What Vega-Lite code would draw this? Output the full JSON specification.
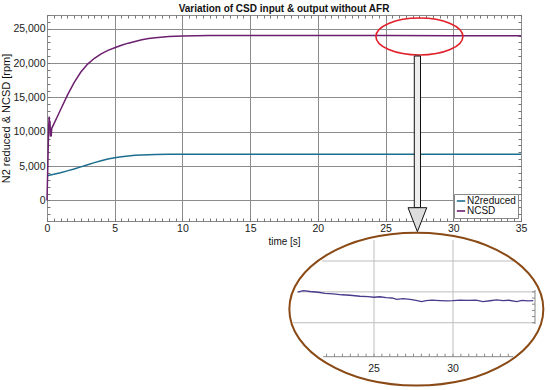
{
  "$schema": "https://vega.github.io/schema/vega-lite/v6.json",
  "width": 474,
  "height": 206,
  "autosize": "none",
  "padding": {"left": 47, "top": 15, "right": 29, "bottom": 169},
  "title": {"text": "Variation of CSD input & output without AFR", "fontSize": 10, "fontWeight": "bold", "anchor": "middle", "offset": -4, "color": "#111"},
  "config": {
    "font": "Liberation Sans",
    "view": {"stroke": "#888", "strokeWidth": 1},
    "axis": {"labelColor": "#222", "titleColor": "#111", "tickColor": "#777", "gridColor": "#8c8c8c", "gridWidth": 1, "domain": false}
  },
  "datasets": {
    "main": [
      {"series": "N2reduced", "t": 0, "v": 3600}, {"series": "N2reduced", "t": 0.5, "v": 3800}, {"series": "N2reduced", "t": 1, "v": 4030}, {"series": "N2reduced", "t": 1.5, "v": 4300}, {"series": "N2reduced", "t": 2, "v": 4570}, {"series": "N2reduced", "t": 2.5, "v": 4880}, {"series": "N2reduced", "t": 3, "v": 5200}, {"series": "N2reduced", "t": 3.5, "v": 5500}, {"series": "N2reduced", "t": 4, "v": 5780}, {"series": "N2reduced", "t": 4.5, "v": 6020}, {"series": "N2reduced", "t": 5, "v": 6220}, {"series": "N2reduced", "t": 5.5, "v": 6370}, {"series": "N2reduced", "t": 6, "v": 6480}, {"series": "N2reduced", "t": 6.5, "v": 6560}, {"series": "N2reduced", "t": 7, "v": 6620}, {"series": "N2reduced", "t": 8, "v": 6680}, {"series": "N2reduced", "t": 9, "v": 6705}, {"series": "N2reduced", "t": 10, "v": 6715}, {"series": "N2reduced", "t": 12, "v": 6720}, {"series": "N2reduced", "t": 20, "v": 6720}, {"series": "N2reduced", "t": 35, "v": 6720},
      {"series": "NCSD", "t": 0, "v": 0}, {"series": "NCSD", "t": 0.06, "v": 5000}, {"series": "NCSD", "t": 0.12, "v": 10500}, {"series": "NCSD", "t": 0.16, "v": 12200}, {"series": "NCSD", "t": 0.19, "v": 10200}, {"series": "NCSD", "t": 0.22, "v": 11600}, {"series": "NCSD", "t": 0.25, "v": 9300}, {"series": "NCSD", "t": 0.29, "v": 9800}, {"series": "NCSD", "t": 0.31, "v": 9300}, {"series": "NCSD", "t": 0.35, "v": 10500}, {"series": "NCSD", "t": 0.5, "v": 11100}, {"series": "NCSD", "t": 0.75, "v": 12150}, {"series": "NCSD", "t": 1, "v": 13200}, {"series": "NCSD", "t": 1.5, "v": 15300}, {"series": "NCSD", "t": 2, "v": 17150}, {"series": "NCSD", "t": 2.5, "v": 18700}, {"series": "NCSD", "t": 3, "v": 19850}, {"series": "NCSD", "t": 3.5, "v": 20700}, {"series": "NCSD", "t": 4, "v": 21350}, {"series": "NCSD", "t": 4.5, "v": 21850}, {"series": "NCSD", "t": 5, "v": 22240}, {"series": "NCSD", "t": 5.5, "v": 22600}, {"series": "NCSD", "t": 6, "v": 22900}, {"series": "NCSD", "t": 6.5, "v": 23150}, {"series": "NCSD", "t": 7, "v": 23380}, {"series": "NCSD", "t": 7.5, "v": 23570}, {"series": "NCSD", "t": 8, "v": 23700}, {"series": "NCSD", "t": 9, "v": 23860}, {"series": "NCSD", "t": 10, "v": 23950}, {"series": "NCSD", "t": 11, "v": 23990}, {"series": "NCSD", "t": 12, "v": 24000}, {"series": "NCSD", "t": 14, "v": 24010}, {"series": "NCSD", "t": 17, "v": 24010}, {"series": "NCSD", "t": 20, "v": 24010}, {"series": "NCSD", "t": 25, "v": 24000}, {"series": "NCSD", "t": 30, "v": 23990}, {"series": "NCSD", "t": 35, "v": 23990}
    ],
    "inset": [
      {"t": 20.17, "v": 23999.4}, {"t": 20.53, "v": 24001.9}, {"t": 20.95, "v": 24000.6}, {"t": 21.46, "v": 23999.4}, {"t": 21.9, "v": 23997.7}, {"t": 22.41, "v": 23996.6}, {"t": 22.97, "v": 23995.3}, {"t": 23.48, "v": 23994.5}, {"t": 24.11, "v": 23992.9}, {"t": 24.62, "v": 23992.2}, {"t": 25.0, "v": 23991.3}, {"t": 25.38, "v": 23992.1}, {"t": 25.76, "v": 23990.6}, {"t": 26.14, "v": 23990.1}, {"t": 26.44, "v": 23988.0}, {"t": 26.84, "v": 23989.0}, {"t": 27.28, "v": 23987.7}, {"t": 27.66, "v": 23986.4}, {"t": 28.02, "v": 23984.1}, {"t": 28.29, "v": 23985.9}, {"t": 28.67, "v": 23986.6}, {"t": 29.18, "v": 23985.9}, {"t": 29.62, "v": 23985.4}, {"t": 30.0, "v": 23985.7}, {"t": 30.44, "v": 23986.6}, {"t": 30.95, "v": 23986.1}, {"t": 31.46, "v": 23986.7}, {"t": 31.9, "v": 23984.1}, {"t": 32.34, "v": 23985.6}, {"t": 32.77, "v": 23986.9}, {"t": 33.16, "v": 23985.9}, {"t": 33.54, "v": 23986.4}, {"t": 34.03, "v": 23984.1}, {"t": 34.37, "v": 23986.1}, {"t": 34.75, "v": 23985.4}, {"t": 35.08, "v": 23985.9}
    ],
    "hgrid": [{"v": 24050, "t1": 21.7, "t2": 33.95}, {"v": 24000, "t1": 20.15, "t2": 35.19}, {"v": 23950, "t1": 19.87, "t2": 35.19}],
    "vgrid": [{"t": 25, "v1": 24084, "v2": 23895}, {"t": 30, "v1": 24084, "v2": 23895}],
    "bticks": [{"t": 22}, {"t": 22.5}, {"t": 23}, {"t": 23.5}, {"t": 24}, {"t": 24.5}, {"t": 25}, {"t": 25.5}, {"t": 26}, {"t": 26.5}, {"t": 27}, {"t": 27.5}, {"t": 28}, {"t": 28.5}, {"t": 29}, {"t": 29.5}, {"t": 30}, {"t": 30.5}, {"t": 31}, {"t": 31.5}, {"t": 32}, {"t": 32.5}, {"t": 33}, {"t": 33.5}],
    "rticks": [{"v": 24000}, {"v": 23990}, {"v": 23980}, {"v": 23970}, {"v": 23960}, {"v": 23950}],
    "ilabels": [{"t": 25, "label": "25"}, {"t": 30, "label": "30"}],
    "one": [{}]
  },
  "layer": [
    {
      "layer": [
        {
          "data": {"name": "main"},
          "mark": {"type": "line", "strokeWidth": 1.5},
          "encoding": {
            "x": {"field": "t", "type": "quantitative", "scale": {"domain": [0, 35], "nice": false, "zero": false},
              "axis": {"orient": "bottom", "values": [0,0.5,1,1.5,2,2.5,3,3.5,4,4.5,5,5.5,6,6.5,7,7.5,8,8.5,9,9.5,10,10.5,11,11.5,12,12.5,13,13.5,14,14.5,15,15.5,16,16.5,17,17.5,18,18.5,19,19.5,20,20.5,21,21.5,22,22.5,23,23.5,24,24.5,25,25.5,26,26.5,27,27.5,28,28.5,29,29.5,30,30.5,31,31.5,32,32.5,33,33.5,34,34.5,35],
                "labelExpr": "datum.value % 5 == 0 ? format(datum.value, 'd') : ''", "labelOverlap": false, "labelFlush": false, "labelFontSize": 10.5, "labelPadding": 5,
                "grid": true, "gridOpacity": {"condition": {"test": "datum.value % 5 == 0", "value": 1}, "value": 0},
                "tickSize": -3, "title": "time [s]", "titleFontSize": 10, "titleFontWeight": "normal", "titlePadding": 3}},
            "y": {"field": "v", "type": "quantitative", "scale": {"domain": [-3000, 27000], "nice": false, "zero": false},
              "axis": {"orient": "left", "values": [-3000,-2000,-1000,0,1000,2000,3000,4000,5000,6000,7000,8000,9000,10000,11000,12000,13000,14000,15000,16000,17000,18000,19000,20000,21000,22000,23000,24000,25000,26000,27000],
                "labelExpr": "datum.value % 5000 == 0 ? format(datum.value, ',') : ''", "labelOverlap": false, "labelFlush": false, "labelFontSize": 10.5, "labelPadding": 5,
                "grid": true, "gridOpacity": {"condition": {"test": "datum.value % 5000 == 0", "value": 1}, "value": 0},
                "tickSize": -3, "title": "N2 reduced & NCSD [rpm]", "titleFontSize": 11, "titleFontWeight": "normal", "titlePadding": 1}},
            "color": {"field": "series", "type": "nominal", "scale": {"domain": ["N2reduced", "NCSD"], "range": ["#1b6e8d", "#6b1f6e"]},
              "legend": {"orient": "bottom-right", "offset": 3, "title": null, "symbolType": "stroke", "symbolSize": 70, "symbolStrokeWidth": 1.6, "labelFontSize": 10, "labelOffset": 1, "padding": 2, "rowPadding": 0, "strokeColor": "#888", "fillColor": "white", "labelColor": "#111"}}
          }
        },
        {
          "data": {"name": "main"},
          "mark": {"type": "point", "opacity": 0},
          "encoding": {
            "x": {"field": "t", "type": "quantitative", "scale": {"domain": [0, 35], "nice": false, "zero": false},
              "axis": {"orient": "top", "values": [0,0.5,1,1.5,2,2.5,3,3.5,4,4.5,5,5.5,6,6.5,7,7.5,8,8.5,9,9.5,10,10.5,11,11.5,12,12.5,13,13.5,14,14.5,15,15.5,16,16.5,17,17.5,18,18.5,19,19.5,20,20.5,21,21.5,22,22.5,23,23.5,24,24.5,25,25.5,26,26.5,27,27.5,28,28.5,29,29.5,30,30.5,31,31.5,32,32.5,33,33.5,34,34.5,35],
                "labels": false, "grid": false, "tickSize": -3, "title": null}},
            "y": {"field": "v", "type": "quantitative", "scale": {"domain": [-3000, 27000], "nice": false, "zero": false},
              "axis": {"orient": "right", "values": [-3000,-2000,-1000,0,1000,2000,3000,4000,5000,6000,7000,8000,9000,10000,11000,12000,13000,14000,15000,16000,17000,18000,19000,20000,21000,22000,23000,24000,25000,26000,27000],
                "labels": false, "grid": false, "tickSize": -3, "title": null}}
          }
        },
        {
          "data": {"name": "one"},
          "mark": {"type": "point", "shape": "M-1,0C-1,-0.2348,-0.5523,-0.425,0,-0.425C0.5523,-0.425,1,-0.2348,1,0C1,0.2348,0.5523,0.425,0,0.425C-0.5523,0.425,-1,0.2348,-1,0Z", "size": 7569, "filled": false, "stroke": "#e0202a", "strokeWidth": 1.6, "opacity": 1},
          "encoding": {
            "x": {"datum": 27.5, "type": "quantitative", "scale": {"domain": [0, 35], "nice": false, "zero": false}, "axis": null},
            "y": {"datum": 23869, "type": "quantitative", "scale": {"domain": [-3000, 27000], "nice": false, "zero": false}, "axis": null}
          }
        },
        {
          "data": {"name": "one"},
          "mark": {"type": "rect", "fill": "#eeeeee", "stroke": "#111", "strokeWidth": 1},
          "encoding": {
            "x": {"datum": 27.12, "type": "quantitative", "scale": {"domain": [0, 35], "nice": false, "zero": false}, "axis": null},
            "x2": {"datum": 27.58},
            "y": {"datum": 21029, "type": "quantitative", "scale": {"domain": [-3000, 27000], "nice": false, "zero": false}, "axis": null},
            "y2": {"datum": -1063}
          }
        },
        {
          "data": {"name": "one"},
          "mark": {"type": "point", "shape": "M-0.78,-1L0.78,-1L0,1Z", "size": 576, "filled": true, "fill": "#dddddd", "stroke": "#111", "strokeWidth": 1, "opacity": 1},
          "encoding": {
            "x": {"datum": 27.35, "type": "quantitative", "scale": {"domain": [0, 35], "nice": false, "zero": false}, "axis": null},
            "y": {"datum": -2810, "type": "quantitative", "scale": {"domain": [-3000, 27000], "nice": false, "zero": false}, "axis": null}
          }
        }
      ],
      "resolve": {"axis": {"x": "independent", "y": "independent"}}
    },
    {
      "layer": [
        {
          "data": {"name": "hgrid"},
          "mark": {"type": "rule", "color": "#bdbdbd", "strokeWidth": 1},
          "encoding": {
            "x": {"field": "t1", "type": "quantitative", "scale": {"domain": [25, 30], "range": [327, 406], "nice": false, "zero": false}, "axis": null},
            "x2": {"field": "t2"},
            "y": {"field": "v", "type": "quantitative", "scale": {"domain": [23895, 24050], "range": [341.7, 246], "nice": false, "zero": false}, "axis": null}
          }
        },
        {
          "data": {"name": "vgrid"},
          "mark": {"type": "rule", "color": "#bdbdbd", "strokeWidth": 1},
          "encoding": {
            "x": {"field": "t", "type": "quantitative", "scale": {"domain": [25, 30], "range": [327, 406], "nice": false, "zero": false}, "axis": null},
            "y": {"field": "v1", "type": "quantitative", "scale": {"domain": [23895, 24050], "range": [341.7, 246], "nice": false, "zero": false}, "axis": null},
            "y2": {"field": "v2"}
          }
        },
        {
          "data": {"name": "one"},
          "mark": {"type": "rule", "color": "#888", "strokeWidth": 1},
          "encoding": {
            "x": {"datum": 21.77, "type": "quantitative", "scale": {"domain": [25, 30], "range": [327, 406], "nice": false, "zero": false}, "axis": null},
            "x2": {"datum": 33.8},
            "y": {"datum": 23895, "type": "quantitative", "scale": {"domain": [23895, 24050], "range": [341.7, 246], "nice": false, "zero": false}, "axis": null}
          }
        },
        {
          "data": {"name": "bticks"},
          "mark": {"type": "rule", "color": "#888", "strokeWidth": 1},
          "encoding": {
            "x": {"field": "t", "type": "quantitative", "scale": {"domain": [25, 30], "range": [327, 406], "nice": false, "zero": false}, "axis": null},
            "y": {"datum": 23895, "type": "quantitative", "scale": {"domain": [23895, 24050], "range": [341.7, 246], "nice": false, "zero": false}, "axis": null},
            "y2": {"datum": 23899.9}
          }
        },
        {
          "data": {"name": "one"},
          "mark": {"type": "rule", "color": "#888", "strokeWidth": 1},
          "encoding": {
            "x": {"datum": 35.19, "type": "quantitative", "scale": {"domain": [25, 30], "range": [327, 406], "nice": false, "zero": false}, "axis": null},
            "y": {"datum": 24003, "type": "quantitative", "scale": {"domain": [23895, 24050], "range": [341.7, 246], "nice": false, "zero": false}, "axis": null},
            "y2": {"datum": 23948}
          }
        },
        {
          "data": {"name": "rticks"},
          "mark": {"type": "rule", "color": "#888", "strokeWidth": 1},
          "encoding": {
            "x": {"datum": 35.0, "type": "quantitative", "scale": {"domain": [25, 30], "range": [327, 406], "nice": false, "zero": false}, "axis": null},
            "x2": {"datum": 35.19},
            "y": {"field": "v", "type": "quantitative", "scale": {"domain": [23895, 24050], "range": [341.7, 246], "nice": false, "zero": false}, "axis": null}
          }
        },
        {
          "data": {"name": "inset"},
          "mark": {"type": "line", "color": "#4b3a8c", "strokeWidth": 1.3},
          "encoding": {
            "x": {"field": "t", "type": "quantitative", "scale": {"domain": [25, 30], "range": [327, 406], "nice": false, "zero": false}, "axis": null},
            "y": {"field": "v", "type": "quantitative", "scale": {"domain": [23895, 24050], "range": [341.7, 246], "nice": false, "zero": false}, "axis": null}
          }
        },
        {
          "data": {"name": "ilabels"},
          "mark": {"type": "text", "fontSize": 10.5, "color": "#222", "baseline": "middle", "align": "center"},
          "encoding": {
            "x": {"field": "t", "type": "quantitative", "scale": {"domain": [25, 30], "range": [327, 406], "nice": false, "zero": false}, "axis": null},
            "y": {"datum": 23875, "type": "quantitative", "scale": {"domain": [23895, 24050], "range": [341.7, 246], "nice": false, "zero": false}, "axis": null},
            "text": {"field": "label", "type": "nominal"}
          }
        },
        {
          "data": {"name": "one"},
          "mark": {"type": "point", "shape": "M-1,0C-1,-0.3325,-0.5523,-0.602,0,-0.602C0.5523,-0.602,1,-0.3325,1,0C1,0.3325,0.5523,0.602,0,0.602C-0.5523,0.602,-1,0.3325,-1,0Z", "size": 64516, "filled": false, "stroke": "#8a4a16", "strokeWidth": 2, "opacity": 1},
          "encoding": {
            "x": {"datum": 27.68, "type": "quantitative", "scale": {"domain": [25, 30], "range": [327, 406], "nice": false, "zero": false}, "axis": null},
            "y": {"datum": 23972, "type": "quantitative", "scale": {"domain": [23895, 24050], "range": [341.7, 246], "nice": false, "zero": false}, "axis": null}
          }
        }
      ]
    }
  ],
  "resolve": {"scale": {"x": "independent", "y": "independent"}}
}
